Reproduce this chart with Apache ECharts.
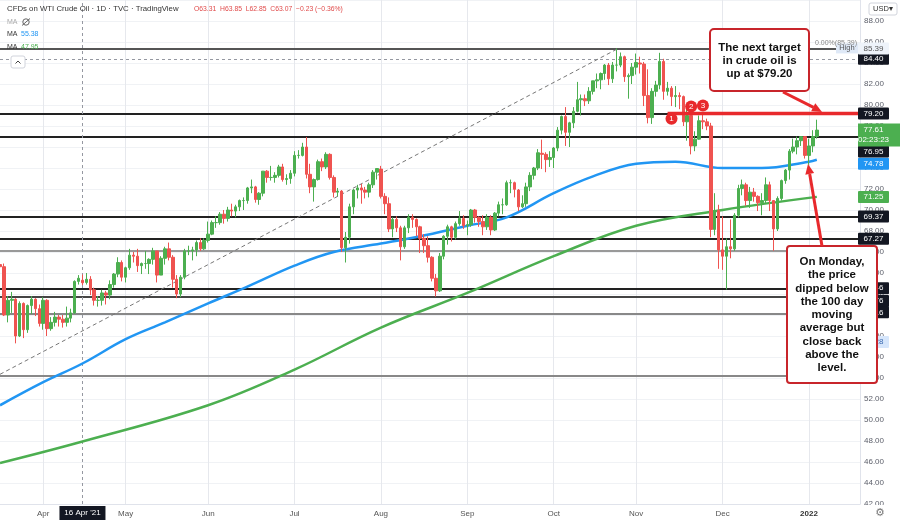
<!DOCTYPE html>
<html><head><meta charset="utf-8">
<script src="https://cdn.jsdelivr.net/npm/echarts@6/dist/echarts.min.js"></script>
<style>html,body{margin:0;padding:0;background:#fff}#c{width:900px;height:522px}</style>
</head><body><div id="c"></div><script>
// [date, open, high, low, close]
const ohlc = [
['2021-03-17',64.8,65.3,63.7,64.6],['2021-03-18',64.6,64.9,59.9,60.0],['2021-03-19',60.0,61.8,59.3,61.4],
['2021-03-22',61.4,62.2,60.2,61.5],['2021-03-23',61.5,61.6,57.3,58.0],['2021-03-24',58.0,61.3,57.9,61.1],
['2021-03-25',61.1,61.2,57.8,58.6],['2021-03-26',58.6,61.0,58.3,60.9],['2021-03-29',60.9,61.8,60.1,61.5],
['2021-03-30',61.5,61.6,59.9,60.6],['2021-03-31',60.6,61.0,58.9,59.2],['2021-04-01',59.2,61.7,58.6,61.4],
['2021-04-05',61.4,61.5,58.0,58.7],['2021-04-06',58.7,59.8,58.5,59.3],['2021-04-07',59.3,60.3,58.9,59.8],
['2021-04-08',59.8,60.0,58.9,59.6],['2021-04-09',59.6,60.0,58.8,59.3],['2021-04-12',59.3,60.8,58.9,59.7],
['2021-04-13',59.7,60.6,59.3,60.2],['2021-04-14',60.2,63.3,60.1,63.2],['2021-04-15',63.2,63.8,62.9,63.5],
['2021-04-16',63.31,63.85,62.85,63.07],['2021-04-19',63.1,64.0,62.9,63.4],['2021-04-20',63.4,63.7,61.9,62.4],
['2021-04-21',62.4,62.6,60.9,61.4],['2021-04-22',61.4,61.8,60.8,61.4],['2021-04-23',61.4,62.4,60.9,62.1],
['2021-04-26',62.1,62.3,61.0,61.9],['2021-04-27',61.9,63.3,61.5,62.9],['2021-04-28',62.9,64.0,62.6,63.9],
['2021-04-29',63.9,65.5,63.6,65.0],['2021-04-30',65.0,65.2,63.2,63.6],
['2021-05-03',63.6,64.6,63.1,64.5],['2021-05-04',64.5,66.3,64.3,65.7],['2021-05-05',65.7,66.0,65.0,65.6],
['2021-05-06',65.6,66.3,64.1,64.7],['2021-05-07',64.7,65.0,63.9,64.9],['2021-05-10',64.9,66.1,64.4,64.9],
['2021-05-11',64.9,65.4,63.9,65.3],['2021-05-12',65.3,66.4,64.8,66.1],['2021-05-13',66.1,66.1,63.1,63.8],
['2021-05-14',63.8,65.6,63.8,65.4],['2021-05-17',65.4,66.5,64.8,66.3],['2021-05-18',66.3,66.9,65.2,65.5],
['2021-05-19',65.5,65.7,62.6,63.4],['2021-05-20',63.4,63.8,61.6,62.0],['2021-05-21',62.0,63.8,61.7,63.6],
['2021-05-24',63.6,66.3,63.4,66.1],['2021-05-25',66.1,66.6,65.7,66.1],['2021-05-26',66.1,66.5,65.2,66.2],
['2021-05-27',66.2,67.1,65.6,66.9],['2021-05-28',66.9,67.3,66.1,66.3],['2021-05-31',66.3,67.3,66.2,67.1],
['2021-06-01',67.1,68.9,66.9,67.7],['2021-06-02',67.7,69.0,67.6,68.8],['2021-06-03',68.8,69.4,68.3,68.8],
['2021-06-04',68.8,69.8,68.6,69.6],['2021-06-07',69.6,70.0,68.7,69.2],['2021-06-08',69.2,70.3,68.9,70.0],
['2021-06-09',70.0,70.6,69.4,69.9],['2021-06-10',69.9,70.5,69.3,70.3],['2021-06-11',70.3,71.0,69.9,70.9],
['2021-06-14',70.9,71.2,70.0,70.9],['2021-06-15',70.9,72.2,70.6,72.1],['2021-06-16',72.1,72.9,71.6,72.2],
['2021-06-17',72.2,72.3,70.7,71.0],['2021-06-18',71.0,71.7,70.5,71.6],['2021-06-21',71.6,73.7,71.3,73.7],
['2021-06-22',73.7,73.8,72.6,73.1],['2021-06-23',73.1,74.2,72.8,73.1],['2021-06-24',73.1,73.6,72.6,73.3],
['2021-06-25',73.3,74.3,73.1,74.1],['2021-06-28',74.1,74.4,72.7,72.9],['2021-06-29',72.9,73.4,72.4,73.0],
['2021-06-30',73.0,73.8,72.5,73.5],
['2021-07-01',73.5,75.6,73.2,75.2],['2021-07-02',75.2,75.7,74.9,75.2],['2021-07-05',75.2,76.4,75.1,76.0],
['2021-07-06',76.0,76.95,73.0,73.4],['2021-07-07',73.4,74.4,71.6,72.2],['2021-07-08',72.2,73.0,70.8,72.9],
['2021-07-09',72.9,74.8,72.8,74.6],['2021-07-12',74.6,74.9,73.7,74.1],['2021-07-13',74.1,75.5,73.9,75.3],
['2021-07-14',75.3,75.4,72.9,73.1],['2021-07-15',73.1,73.3,71.2,71.7],['2021-07-16',71.7,72.1,71.3,71.8],
['2021-07-19',71.8,71.9,66.0,66.4],['2021-07-20',66.4,67.9,65.0,67.4],['2021-07-21',67.4,70.6,66.8,70.3],
['2021-07-22',70.3,72.0,69.6,71.9],['2021-07-23',71.9,72.4,71.1,72.1],['2021-07-26',72.1,72.5,70.6,71.9],
['2021-07-27',71.9,72.2,71.1,71.7],['2021-07-28',71.7,72.6,71.2,72.4],['2021-07-29',72.4,73.8,72.1,73.6],
['2021-07-30',73.6,74.0,72.9,73.95],
['2021-08-02',73.9,74.2,71.1,71.3],['2021-08-03',71.3,71.6,69.6,70.6],['2021-08-04',70.6,71.2,67.9,68.2],
['2021-08-05',68.2,69.3,67.4,69.1],['2021-08-06',69.1,69.4,67.9,68.3],['2021-08-09',68.3,68.5,65.2,66.5],
['2021-08-10',66.5,68.5,66.3,68.3],['2021-08-11',68.3,69.6,67.8,69.3],['2021-08-12',69.3,69.6,68.3,69.1],
['2021-08-13',69.1,69.2,67.5,68.4],['2021-08-16',68.4,68.5,65.9,67.3],['2021-08-17',67.3,67.7,65.9,66.6],
['2021-08-18',66.6,67.5,65.0,65.5],['2021-08-19',65.5,65.6,63.2,63.5],['2021-08-20',63.5,63.9,61.76,62.3],
['2021-08-23',62.3,65.9,62.2,65.6],['2021-08-24',65.6,67.6,65.3,67.5],['2021-08-25',67.5,68.6,66.7,68.4],
['2021-08-26',68.4,68.5,67.0,67.4],['2021-08-27',67.4,68.9,67.2,68.7],['2021-08-30',68.7,69.9,68.5,69.2],
['2021-08-31',69.2,69.5,68.2,68.5],
['2021-09-01',68.5,69.0,67.6,68.6],['2021-09-02',68.6,70.1,68.4,70.0],['2021-09-03',70.0,70.1,68.8,69.3],
['2021-09-06',69.3,69.4,68.4,68.9],['2021-09-07',68.9,69.5,67.6,68.4],['2021-09-08',68.4,69.6,68.1,69.3],
['2021-09-09',69.3,69.5,67.6,68.1],['2021-09-10',68.1,69.8,68.0,69.7],['2021-09-13',69.7,70.8,69.4,70.5],
['2021-09-14',70.5,71.1,69.6,70.5],['2021-09-15',70.5,72.8,70.4,72.6],['2021-09-16',72.6,72.9,71.6,72.6],
['2021-09-17',72.6,72.7,71.2,71.97],['2021-09-20',71.9,72.0,69.9,70.3],['2021-09-21',70.3,71.4,70.2,70.6],
['2021-09-22',70.6,72.6,70.3,72.2],['2021-09-23',72.2,73.6,71.8,73.3],['2021-09-24',73.3,74.1,72.9,74.0],
['2021-09-27',74.0,75.8,73.8,75.45],['2021-09-28',75.4,76.7,73.9,75.3],['2021-09-29',75.3,75.5,73.6,74.8],
['2021-09-30',74.8,75.6,74.1,75.0],
['2021-10-01',75.0,76.0,74.0,75.9],['2021-10-04',75.9,77.9,75.6,77.6],['2021-10-05',77.6,79.0,77.2,78.9],
['2021-10-06',78.9,79.8,76.1,77.4],['2021-10-07',77.4,78.4,76.0,78.3],['2021-10-08',78.3,79.8,77.8,79.4],
['2021-10-11',79.4,82.2,79.3,80.5],['2021-10-12',80.5,81.0,79.0,80.6],['2021-10-13',80.6,81.0,79.9,80.4],
['2021-10-14',80.4,81.7,80.1,81.3],['2021-10-15',81.3,82.3,81.0,82.3],['2021-10-18',82.3,83.0,81.6,82.4],
['2021-10-19',82.4,83.1,81.5,83.0],['2021-10-20',83.0,83.9,82.4,83.8],['2021-10-21',83.8,84.0,81.9,82.5],
['2021-10-22',82.5,84.1,82.1,83.8],['2021-10-25',83.8,85.39,83.2,83.8],['2021-10-26',83.8,85.0,83.6,84.6],
['2021-10-27',84.6,84.7,82.2,82.7],['2021-10-28',82.7,83.0,80.6,82.8],['2021-10-29',82.8,84.0,82.0,83.6],
['2021-11-01',83.6,84.9,82.9,84.05],['2021-11-02',84.0,84.6,83.0,83.9],['2021-11-03',83.9,84.1,79.9,80.9],
['2021-11-04',80.9,83.4,78.25,78.8],['2021-11-05',78.8,81.6,78.2,81.3],['2021-11-08',81.3,82.3,80.8,81.9],
['2021-11-09',81.9,84.97,81.5,84.15],['2021-11-10',84.15,84.4,80.5,81.3],['2021-11-11',81.3,82.2,80.9,81.6],
['2021-11-12',81.6,81.8,79.9,80.8],['2021-11-15',80.8,81.8,79.8,80.9],['2021-11-16',80.9,81.2,79.6,80.8],
['2021-11-17',80.8,80.9,78.0,78.4],['2021-11-18',78.4,79.6,76.6,79.0],['2021-11-19',79.0,79.2,75.3,76.1],
['2021-11-22',76.1,77.5,75.6,76.75],['2021-11-23',76.75,79.0,76.7,78.5],['2021-11-24',78.5,79.2,77.7,78.4],
['2021-11-25',78.4,78.7,77.6,78.0],['2021-11-26',78.0,78.3,67.4,68.15],['2021-11-29',68.15,71.6,67.6,69.95],
['2021-11-30',69.95,70.5,64.4,66.2],
['2021-12-01',66.2,69.4,64.3,65.6],['2021-12-02',65.6,67.3,62.43,66.5],['2021-12-03',66.5,69.1,65.4,66.3],
['2021-12-06',66.3,69.7,66.1,69.5],['2021-12-07',69.5,72.4,69.3,72.05],['2021-12-08',72.05,72.9,71.4,72.4],
['2021-12-09',72.4,72.6,70.4,70.9],['2021-12-10',70.9,72.2,70.2,71.7],['2021-12-13',71.7,72.1,70.8,71.3],
['2021-12-14',71.3,71.4,69.9,70.7],['2021-12-15',70.7,71.6,69.5,70.9],['2021-12-16',70.9,73.1,70.6,72.4],
['2021-12-17',72.4,72.7,69.9,70.9],['2021-12-20',70.9,70.9,66.12,68.2],['2021-12-21',68.2,71.3,68.0,71.1],
['2021-12-22',71.1,72.9,70.9,72.8],['2021-12-23',72.8,73.9,72.5,73.8],['2021-12-27',73.8,75.8,72.9,75.6],
['2021-12-28',75.6,76.8,75.4,76.0],['2021-12-29',76.0,77.0,75.3,76.6],['2021-12-30',76.6,77.0,76.1,76.99],
['2021-12-31',76.99,77.0,74.9,75.2],
['2022-01-03',75.2,76.8,74.3,76.1],['2022-01-04',76.1,77.6,75.5,77.0],['2022-01-05',77.0,78.6,76.8,77.61]
];
const futureDates = ['2022-01-06','2022-01-07','2022-01-10','2022-01-11','2022-01-12','2022-01-13','2022-01-14','2022-01-17','2022-01-18','2022-01-19','2022-01-20'];

const ma100 = [['2021-03-17',51.4],['2021-04-01',53.6],['2021-04-16',55.38],['2021-05-03',57.7],['2021-05-17',59.3],
['2021-06-01',61.1],['2021-06-15',62.7],['2021-07-01',64.7],['2021-07-15',66.0],['2021-08-02',66.8],['2021-08-16',67.5],
['2021-09-01',68.5],['2021-09-15',69.3],['2021-10-01',71.6],['2021-10-15',73.2],['2021-11-01',74.4],['2021-11-15',74.6],
['2021-12-01',74.0],['2021-12-15',74.0],['2022-01-03',74.6],['2022-01-05',74.78]];
const ma200 = [['2021-03-17',45.9],['2021-04-16',47.95],['2021-06-01',51.4],['2021-07-01',54.8],['2021-08-02',58.8],
['2021-09-01',62.1],['2021-10-01',65.6],['2021-11-01',68.5],['2021-12-01',70.0],['2022-01-05',71.25]];

const levels = [85.39, 79.20, 76.95, 69.37, 67.27, 66.12, 62.46, 61.76, 60.16, 54.20];
const levelColors = ['#555','#222','#222','#222','#222','#999','#222','#444','#888','#888'];
const trendLine = [['2021-03-17',54.35],['2021-10-25',85.3]];
const targetLine = [['2021-11-11',79.20],['2022-01-20',79.20]];
const circleDates = ['2021-11-12','2021-11-19','2021-11-24'];
const circleValues = [78.7, 79.85, 79.95];
const circleLabels = ['1','2','3'];
const crossDate = '2021-04-16';
const crossPrice = 84.40;

const cats = ohlc.map(r => r[0]).concat(futureDates);
const monthNames = {'01':'Jan','02':'Feb','03':'Mar','04':'Apr','05':'May','06':'Jun','07':'Jul','08':'Aug','09':'Sep','10':'Oct','11':'Nov','12':'Dec'};
function isMonthStart(i){ return i > 0 && cats[i].slice(5,7) !== cats[i-1].slice(5,7); }

const chart = echarts.init(document.getElementById('c'), null, {renderer:'canvas'});
const FONT = '"Liberation Sans", Arial, sans-serif';
const RED = '#e8292c';

chart.setOption({
  animation:false,
  backgroundColor:'#fff',
  grid:{left:0, right:40, top:0, height:504},
  xAxis:{
    type:'category', data:cats, boundaryGap:false,
    axisLine:{show:true, lineStyle:{color:'#e0e3eb'}}, axisTick:{show:false},
    axisLabel:{interval:(i)=>isMonthStart(i), margin:6, color:'#555', fontSize:8, fontFamily:FONT,
      formatter:(v)=> v.slice(5,7)==='01' ? '{b|'+v.slice(0,4)+'}' : monthNames[v.slice(5,7)],
      rich:{b:{fontWeight:'bold', fontSize:8, color:'#333', fontFamily:FONT}}},
    splitLine:{show:true, interval:(i)=>isMonthStart(i), lineStyle:{color:'#e6e8ed', width:1}}
  },
  yAxis:{
    type:'value', position:'right', min:42, max:90, interval:2, scale:true,
    axisLine:{show:true, lineStyle:{color:'#e0e3eb'}}, axisTick:{show:false},
    axisLabel:{margin:4, color:'#5d606b', fontSize:8, fontFamily:FONT, align:'left',
      formatter:(v)=> v >= 89 ? '' : v.toFixed(2)},
    splitLine:{show:true, lineStyle:{color:'#f0f2f5', width:1}}
  },
  series:[
    {type:'line', name:'MA200', data:ma200, smooth:0.4, showSymbol:false, lineStyle:{color:'#4caf50', width:2.5}, z:2, silent:true},
    {type:'line', name:'MA100', data:ma100, smooth:0.4, showSymbol:false, lineStyle:{color:'#2196f3', width:2.5}, z:2, silent:true},
    {type:'line', name:'trend', data:trendLine, showSymbol:false, lineStyle:{color:'#777', width:1, type:[4,3]}, z:1, silent:true},
    {type:'candlestick', name:'WTI', data:ohlc.map(r=>[r[1], r[4], r[3], r[2]]), barWidth:3, z:3,
      itemStyle:{color:'#4caf50', color0:'#ef5350', borderColor:'#4caf50', borderColor0:'#ef5350', borderWidth:1},
      markLine:{silent:true, symbol:'none', label:{show:false}, z:1,
        data: levels.map((v,i)=>({yAxis:v, lineStyle:{color:levelColors[i], width:2, type:'solid'}}))
          .concat([{yAxis:crossPrice, lineStyle:{color:'#9598a1', width:1, type:[3,3]}},
                   {xAxis:crossDate, lineStyle:{color:'#9598a1', width:1, type:[3,3]}}])}
    },
    {type:'line', name:'target', data:targetLine, showSymbol:false, lineStyle:{color:RED, width:3.5}, z:5, silent:true,
      markPoint:{symbol:'circle', symbolSize:12, itemStyle:{color:RED},
        label:{show:true, color:'#fff', fontSize:8, fontFamily:FONT, formatter:(p)=>p.name},
        data: circleDates.map((d,i)=>({coord:[d, circleValues[i]], name:circleLabels[i]}))}
    }
  ]
});

// overlay text / tags positioned through the chart's scales
const py = v => chart.convertToPixel({yAxisIndex:0}, v);
const px = d => chart.convertToPixel({xAxisIndex:0}, d);
const g = [];
function tag(v, text, bg, fg, dy){
  const y = py(v) + (dy||0);
  g.push({type:'rect', z:100, shape:{x:858, y:y-6, width:31, height:12, r:1}, style:{fill:bg}});
  g.push({type:'text', z:101, style:{text:text, x:873.5, y:y, align:'center', verticalAlign:'middle', fill:fg, font:'8px '+FONT}});
}
tag(57.28, '57.28', '#d6e6fb', '#3c6bb0', -1.5);
tag(62.46, '62.46', '#131722', '#fff', -1);
tag(61.76, '61.76', '#131722', '#fff', 4.5);
tag(60.16, '60.16', '#131722', '#fff', -1);
tag(67.27, '67.27', '#131722', '#fff', 0);
tag(69.37, '69.37', '#131722', '#fff', 0);
tag(71.25, '71.25', '#4caf50', '#fff', 0);
tag(74.78, '74.78', '#2196f3', '#fff', 4);
tag(76.95, '76.95', '#131722', '#fff', 14.5);
// current price tag
(function(){ const y = py(77.61);
  g.push({type:'rect', z:100, shape:{x:858, y:y-6.5, width:42, height:23}, style:{fill:'#4caf50'}});
  g.push({type:'text', z:101, style:{text:'77.61', x:873.5, y:y-0.5, align:'center', verticalAlign:'middle', fill:'#fff', font:'8px '+FONT}});
  g.push({type:'text', z:101, style:{text:'02:23:23', x:873.5, y:y+10, align:'center', verticalAlign:'middle', fill:'#fff', font:'8px '+FONT}});
})();
tag(79.20, '79.20', '#131722', '#fff', 0);
tag(84.40, '84.40', '#131722', '#fff', 0);
tag(85.39, '85.39', '#eef3fa', '#555', 0);
// fib/high label
(function(){ const y = py(85.39);
  g.push({type:'text', z:101, style:{text:'0.00%(85.39)', x:815, y:y-5, align:'left', verticalAlign:'middle', fill:'#888', font:'7px '+FONT}});
  g.push({type:'rect', z:100, shape:{x:836, y:y-5, width:22, height:10}, style:{fill:'#dfe9f7'}});
  g.push({type:'text', z:101, style:{text:'High', x:847, y:y, align:'center', verticalAlign:'middle', fill:'#555', font:'7.5px '+FONT}});
})();
// crosshair date label
(function(){ const x = px(crossDate);
  g.push({type:'rect', z:100, shape:{x:x-23, y:506, width:46, height:14}, style:{fill:'#131722'}});
  g.push({type:'text', z:101, style:{text:"16 Apr '21", x:x, y:513, align:'center', verticalAlign:'middle', fill:'#fff', font:'8px '+FONT}});
})();
// bottom-right cover + gear, USD box
g.push({type:'rect', z:99, shape:{x:861, y:505, width:39, height:17}, style:{fill:'#fff'}});
g.push({type:'text', z:101, style:{text:'\u2699', x:880, y:513, align:'center', verticalAlign:'middle', fill:'#777', font:'11px "DejaVu Sans"'}});
g.push({type:'rect', z:100, shape:{x:869, y:3, width:28, height:12, r:2}, style:{fill:'#fff', stroke:'#d1d4dc', lineWidth:1}});
g.push({type:'text', z:101, style:{text:'USD\u25BE', x:883, y:9, align:'center', verticalAlign:'middle', fill:'#333', font:'7.5px '+FONT}});
// legend / title
g.push({type:'text', z:101, style:{text:'CFDs on WTI Crude Oil \u00B7 1D \u00B7 TVC \u00B7 TradingView', x:7, y:9, verticalAlign:'middle', fill:'#333', font:'7.8px '+FONT}});
g.push({type:'text', z:101, style:{text:'O63.31  H63.85  L62.85  C63.07  \u22120.23 (\u22120.36%)', x:194, y:9.5, verticalAlign:'middle', fill:'#e04a4a', font:'6.8px '+FONT}});
g.push({type:'text', z:101, style:{text:'MA', x:7, y:22, verticalAlign:'middle', fill:'#aaa', font:'7px '+FONT}});
g.push({type:'circle', z:101, shape:{cx:26, cy:22, r:3.2}, style:{fill:'none', stroke:'#666', lineWidth:1}});
g.push({type:'line', z:101, shape:{x1:22, y1:25.5, x2:30, y2:18.5}, style:{stroke:'#666', lineWidth:1}});
g.push({type:'text', z:101, style:{text:'MA', x:7, y:34.5, verticalAlign:'middle', fill:'#333', font:'7px '+FONT}});
g.push({type:'text', z:101, style:{text:'55.38', x:21, y:34.5, verticalAlign:'middle', fill:'#2196f3', font:'7px '+FONT}});
g.push({type:'text', z:101, style:{text:'MA', x:7, y:47, verticalAlign:'middle', fill:'#333', font:'7px '+FONT}});
g.push({type:'text', z:101, style:{text:'47.95', x:21, y:47, verticalAlign:'middle', fill:'#4caf50', font:'7px '+FONT}});
g.push({type:'rect', z:101, shape:{x:11, y:56, width:14, height:12, r:2}, style:{fill:'#fff', stroke:'#d1d4dc', lineWidth:1}});
g.push({type:'polyline', z:102, shape:{points:[[15.5,63.5],[18,61],[20.5,63.5]]}, style:{stroke:'#444', lineWidth:1, fill:'none'}});
// annotation boxes
g.push({type:'rect', z:110, shape:{x:710, y:29, width:99, height:62, r:4}, style:{fill:'#fff', stroke:'#c8252b', lineWidth:2}});
g.push({type:'text', z:111, style:{text:'The next target\nin crude oil is\nup at $79.20', x:759.5, y:61, align:'center', verticalAlign:'middle', fill:'#111', font:'bold 11.5px '+FONT, lineHeight:13}});
g.push({type:'rect', z:110, shape:{x:787, y:246, width:90, height:137, r:3}, style:{fill:'#fff', stroke:'#c8252b', lineWidth:2}});
g.push({type:'text', z:111, style:{text:'On Monday,\nthe price\ndipped below\nthe 100 day\nmoving\naverage but\nclose back\nabove the\nlevel.', x:832, y:315, align:'center', verticalAlign:'middle', fill:'#111', font:'bold 11.5px '+FONT, lineHeight:13.25}});
// arrows
g.push({type:'line', z:112, shape:{x1:783, y1:92, x2:813.5, y2:107.3}, style:{stroke:RED, lineWidth:3}});
g.push({type:'polygon', z:112, shape:{points:[[822,112],[811.1,111.2],[815.3,103.2]]}, style:{fill:RED}});
g.push({type:'line', z:112, shape:{x1:822, y1:246, x2:809.7, y2:174}, style:{stroke:RED, lineWidth:3}});
g.push({type:'polygon', z:112, shape:{points:[[808,164],[814.1,173.1],[805.3,174.7]]}, style:{fill:RED}});
chart.setOption({graphic:{elements:g}});
</script></body></html>
